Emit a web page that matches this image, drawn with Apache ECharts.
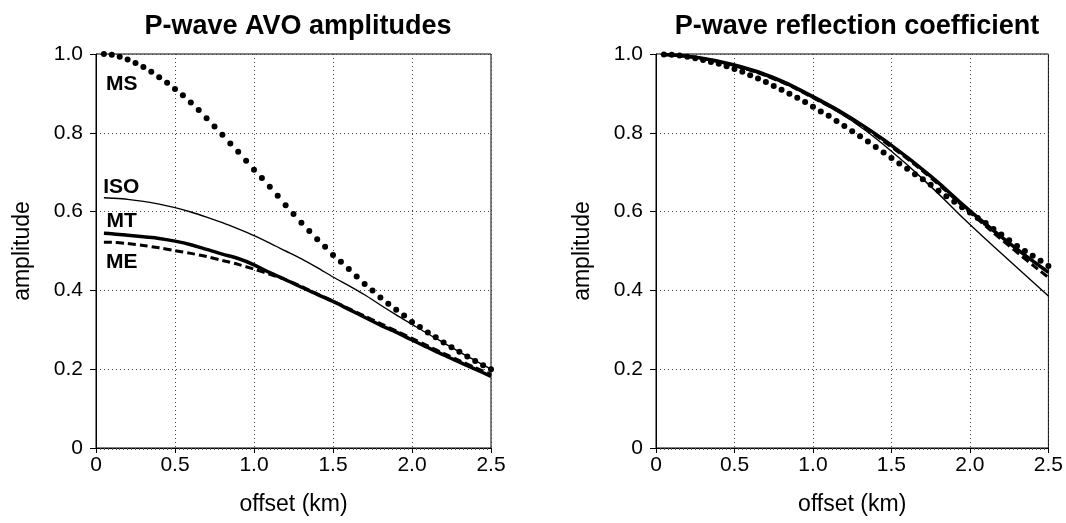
<!DOCTYPE html>
<html>
<head>
<meta charset="utf-8">
<script src="https://cdn.jsdelivr.net/npm/echarts@6/dist/echarts.min.js"></script>
<style>
html,body{margin:0;padding:0;background:#fff;}
#chart{width:1066px;height:523px;}
</style>
</head>
<body>
<div id="chart"></div>
<script>
// ---------- data ----------
const TITLES = ['P-wave AVO amplitudes', 'P-wave reflection coefficient'];
const X_NAME = 'offset (km)';
const Y_NAME = 'amplitude';

// offsets of the dotted (MS) series, every 0.05 km
const OFFSET_DOTS = [0.05,0.10,0.15,0.20,0.25,0.30,0.35,0.40,0.45,0.50,
  0.55,0.60,0.65,0.70,0.75,0.80,0.85,0.90,0.95,1.00,
  1.05,1.10,1.15,1.20,1.25,1.30,1.35,1.40,1.45,1.50,
  1.55,1.60,1.65,1.70,1.75,1.80,1.85,1.90,1.95,2.00,
  2.05,2.10,2.15,2.20,2.25,2.30,2.35,2.40,2.45,2.50];

const MS_LEFT = [1.000,0.998,0.993,0.986,0.977,0.967,0.955,0.941,0.927,0.911,
  0.895,0.877,0.858,0.837,0.816,0.795,0.773,0.752,0.729,0.706,
  0.685,0.663,0.640,0.616,0.594,0.572,0.551,0.530,0.511,0.490,
  0.473,0.454,0.435,0.416,0.400,0.382,0.366,0.351,0.336,0.320,
  0.307,0.293,0.281,0.268,0.256,0.244,0.232,0.221,0.210,0.200];

const MS_RIGHT = [0.999,0.998,0.996,0.993,0.989,0.985,0.980,0.975,0.969,0.962,
  0.955,0.946,0.938,0.929,0.919,0.909,0.899,0.889,0.878,0.866,
  0.854,0.843,0.830,0.817,0.804,0.791,0.778,0.764,0.750,0.736,
  0.722,0.709,0.695,0.682,0.668,0.653,0.639,0.625,0.611,0.598,
  0.584,0.571,0.556,0.542,0.527,0.513,0.500,0.488,0.475,0.462];

// left panel line series
const OFFSET_LINE_L = [0.05,0.1,0.2,0.3,0.4,0.5,0.6,0.7,0.8,0.9,1.0,1.1,1.2,1.3,
  1.4,1.5,1.6,1.7,1.8,1.9,2.0,2.1,2.2,2.3,2.4,2.5];
const ISO_LEFT = [0.635,0.634,0.631,0.626,0.619,0.610,0.599,0.586,0.572,0.556,0.539,
  0.520,0.500,0.480,0.458,0.434,0.412,0.389,0.363,0.338,0.314,0.290,0.267,0.244,0.222,0.200];
const MT_LEFT = [0.545,0.544,0.540,0.536,0.532,0.525,0.516,0.504,0.492,0.481,0.465,
  0.445,0.427,0.408,0.390,0.372,0.352,0.332,0.312,0.294,0.274,0.255,0.236,0.218,0.200,0.182];
const ME_LEFT = [0.522,0.522,0.519,0.514,0.508,0.501,0.494,0.486,0.476,0.466,0.454,
  0.441,0.427,0.410,0.391,0.373,0.354,0.335,0.316,0.297,0.278,0.259,0.240,0.222,0.204,0.187];

// right panel line series
const OFFSET_LINE_R = [0.05,0.25,0.5,0.75,1.0,1.25,1.5,1.75,2.0,2.25,2.5];
const ISO_RIGHT = [0.999,0.991,0.969,0.936,0.888,0.830,0.753,0.664,0.567,0.476,0.386];
const MT_RIGHT  = [0.999,0.992,0.972,0.940,0.892,0.836,0.768,0.690,0.602,0.520,0.446];
const ME_RIGHT  = [0.999,0.991,0.970,0.937,0.889,0.833,0.764,0.686,0.598,0.513,0.433];

// curve labels (left panel)
const CURVE_LABELS = ['MS','ISO','MT','ME'];

// ---------- chart ----------
const FONT = "'Liberation Sans', Arial, Helvetica, sans-serif";
const pair = (xs, ys) => xs.map((x, i) => [x, ys[i]]);

function xAxis(gi){
  return {
    gridIndex: gi, type: 'value', min: 0, max: 2.5, interval: 0.5,
    name: X_NAME, nameLocation: 'middle', nameGap: 45,
    nameTextStyle: {fontFamily: FONT, fontSize: 23, color: '#000'},
    axisLine: {show: true, onZero: false, lineStyle: {color: '#000', width: 1}},
    axisTick: {show: true, length: 5, lineStyle: {color: '#000'}},
    minorTick: {show: true, splitNumber: 20, length: 2, lineStyle: {color: '#555'}},
    axisLabel: {fontFamily: FONT, fontSize: 21, color: '#000', margin: 7,
      formatter: v => v === 0 ? '0' : v.toFixed(1)},
    splitLine: {show: true, lineStyle: {color: '#444', width: 1, type: [1, 3]}}
  };
}
function yAxis(gi){
  return {
    gridIndex: gi, type: 'value', min: 0, max: 1, interval: 0.2,
    name: Y_NAME, nameLocation: 'middle', nameGap: 62, nameRotate: 90,
    nameTextStyle: {fontFamily: FONT, fontSize: 23, color: '#000'},
    axisLine: {show: true, onZero: false, lineStyle: {color: '#000', width: 1}},
    axisTick: {show: true, length: 6, lineStyle: {color: '#000'}},
    axisLabel: {fontFamily: FONT, fontSize: 21, color: '#000', margin: 13,
      formatter: v => v === 0 ? '0' : v.toFixed(1)},
    splitLine: {show: true, lineStyle: {color: '#444', width: 1, type: [1, 3]}}
  };
}

function panelSeries(gi, xsLine, iso, mt, me, ms, sm){
  return [
    {type: 'line', xAxisIndex: gi, yAxisIndex: gi, data: pair(xsLine, iso),
      showSymbol: false, smooth: sm, lineStyle: {color: '#000', width: 1.4}, z: 3},
    {type: 'line', xAxisIndex: gi, yAxisIndex: gi, data: pair(xsLine, me),
      showSymbol: false, smooth: sm, lineStyle: {color: '#000', width: 3, type: [8, 4]}, z: 3},
    {type: 'line', xAxisIndex: gi, yAxisIndex: gi, data: pair(xsLine, mt),
      showSymbol: false, smooth: sm, lineStyle: {color: '#000', width: 3.5}, z: 4},
    {type: 'scatter', xAxisIndex: gi, yAxisIndex: gi, data: pair(OFFSET_DOTS, ms),
      symbol: 'circle', symbolSize: 6, itemStyle: {color: '#000', opacity: 1}, z: 5}
  ];
}

const labelSeries = {
  type: 'scatter', xAxisIndex: 0, yAxisIndex: 0, symbolSize: 0, silent: true, z: 6,
  itemStyle: {opacity: 1},
  data: [
    {value: [0.163, 0.924], name: CURVE_LABELS[0]},
    {value: [0.160, 0.663], name: CURVE_LABELS[1]},
    {value: [0.163, 0.576], name: CURVE_LABELS[2]},
    {value: [0.163, 0.472], name: CURVE_LABELS[3]}
  ],
  label: {show: true, position: 'inside', formatter: p => p.name, opacity: 1,
    fontFamily: FONT, fontSize: 21, fontWeight: 'bold', color: '#000'}
};

const option = {
  animation: false,
  backgroundColor: '#fff',
  title: [
    {text: TITLES[0], left: 293, top: 8, textAlign: 'center',
      textStyle: {fontFamily: FONT, fontSize: 27, fontWeight: 'bold', color: '#000'}},
    {text: TITLES[1], left: 852, top: 8, textAlign: 'center',
      textStyle: {fontFamily: FONT, fontSize: 27, fontWeight: 'bold', color: '#000'}}
  ],
  grid: [
    {left: 96, top: 54, width: 395, height: 394, show: true, borderColor: '#000', borderWidth: 1, backgroundColor: 'transparent'},
    {left: 656, top: 54, width: 393, height: 394, show: true, borderColor: '#000', borderWidth: 1, backgroundColor: 'transparent'}
  ],
  xAxis: [xAxis(0), xAxis(1)],
  yAxis: [yAxis(0), yAxis(1)],
  series: [
    ...panelSeries(0, OFFSET_LINE_L, ISO_LEFT, MT_LEFT, ME_LEFT, MS_LEFT, 0.3),
    ...panelSeries(1, OFFSET_LINE_R, ISO_RIGHT, MT_RIGHT, ME_RIGHT, MS_RIGHT, 0.5),
    labelSeries
  ]
};

const chart = echarts.init(document.getElementById('chart'), null, {renderer: 'canvas'});
chart.setOption(option);
</script>
</body>
</html>
